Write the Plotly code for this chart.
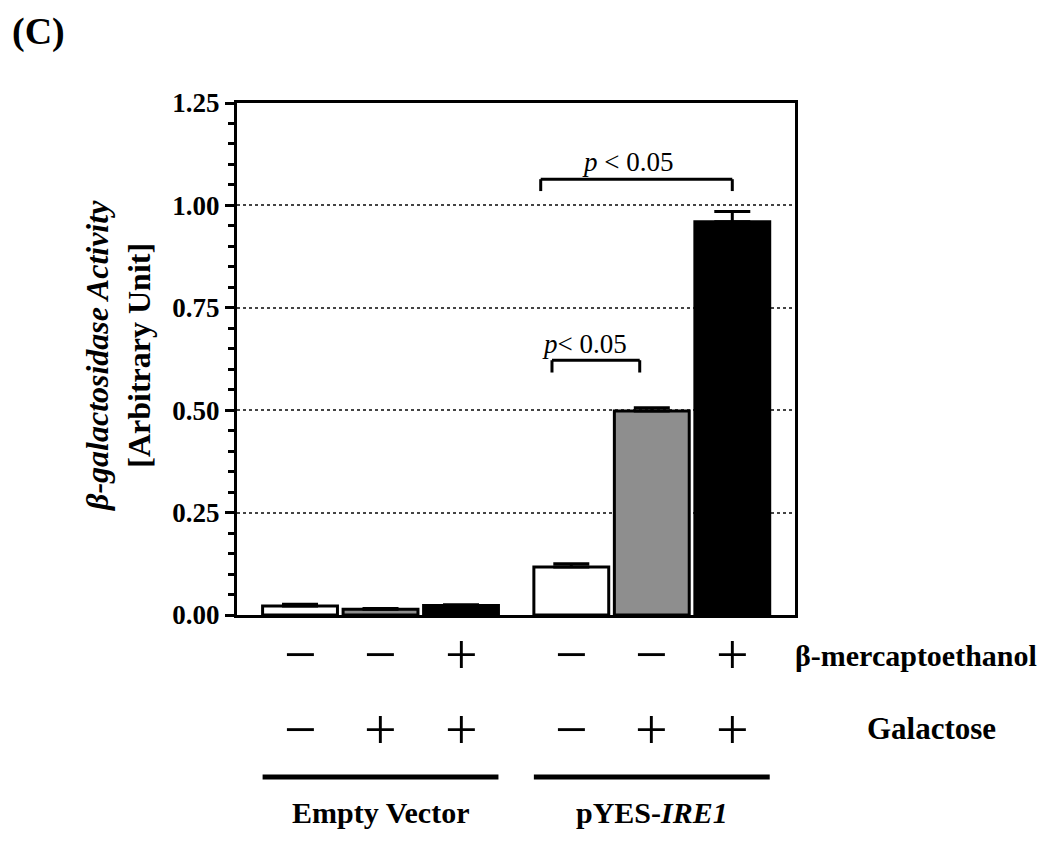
import plotly.graph_objects as go

# ---- data ----
groups = ["Empty Vector", "pYES-<i>IRE1</i>"]
merc_signs = ["−", "−", "+"]
gal_signs = ["−", "+", "+"]
values = [0.022, 0.014, 0.023, 0.117, 0.498, 0.960]
errors = [0.004, 0.002, 0.002, 0.008, 0.008, 0.025]
bar_colors = ["white", "#8e8e8e", "black", "white", "#8e8e8e", "black"]
y_ticks = [0.0, 0.25, 0.5, 0.75, 1.0, 1.25]
sig_label_1 = "<i>p</i> < 0.05"
sig_label_2 = "<i>p</i>< 0.05"

# ---- layout helpers ----
GROUP_STEP = 3.37
BAR_W = 0.93
n_per = 3
xs = [g * GROUP_STEP + i for g in range(len(groups)) for i in range(n_per)]

W, H = 1050, 845
OFF = 8  # page body margin
PX0, PX1, PY0, PY1 = 237, 795, 103, 615  # plot area in screen pixels
L = PX0 - OFF
T = PY0 - OFF
R = W - L - (PX1 - PX0)
B = H - T - (PY1 - PY0)
plot_w = PX1 - PX0
plot_h = PY1 - PY0
def py(pix):  # screen pixel y -> paper y
    return (PY1 - pix) / plot_h
def px(pix):  # screen pixel x -> paper x
    return (pix - PX0) / plot_w

FONT = "Liberation Serif"

fig = go.Figure()
fig.add_trace(go.Bar(
    x=xs, y=values, width=BAR_W,
    marker=dict(color=bar_colors, line=dict(color="black", width=3)),
    error_y=dict(type="data", array=errors, arrayminus=[0] * len(errors),
                 symmetric=False, color="black", thickness=3, width=18),
    showlegend=False, hoverinfo="skip",
))

ann = []
# +/- rows
for k, x in enumerate(xs):
    ann.append(dict(x=x, y=py(654), xref="x", yref="paper", text=merc_signs[k % n_per],
                    showarrow=False, font=dict(family=FONT, size=58, color="black"),
                    xanchor="center", yanchor="middle"))
    ann.append(dict(x=x, y=py(729), xref="x", yref="paper", text=gal_signs[k % n_per],
                    showarrow=False, font=dict(family=FONT, size=58, color="black"),
                    xanchor="center", yanchor="middle"))
ann.append(dict(x=px(916), y=py(655), xref="paper", yref="paper",
                text="<b>β-mercaptoethanol</b>", showarrow=False,
                font=dict(family=FONT, size=30, color="black"), xanchor="center", yanchor="middle"))
ann.append(dict(x=px(931), y=py(728), xref="paper", yref="paper",
                text="<b>Galactose</b>", showarrow=False,
                font=dict(family=FONT, size=31, color="black"), xanchor="center", yanchor="middle"))

shapes = []
for g, name in enumerate(groups):
    gx = xs[g * n_per: (g + 1) * n_per]
    shapes.append(dict(type="line", xref="x", yref="paper",
                       x0=gx[0] - BAR_W / 2, x1=gx[-1] + BAR_W / 2, y0=py(777), y1=py(777),
                       line=dict(color="black", width=5)))
    ann.append(dict(x=gx[1], y=py(812), xref="x", yref="paper", text=f"<b>{name}</b>",
                    showarrow=False, font=dict(family=FONT, size=30, color="black"),
                    xanchor="center", yanchor="middle"))

# significance brackets
def bracket(x0, x1, ytop, ybot):
    for (a, b, c, d) in [(x0, x0, ybot, ytop), (x0, x1, ytop, ytop), (x1, x1, ytop, ybot)]:
        shapes.append(dict(type="line", xref="x", yref="y", x0=a, x1=b, y0=c, y1=d,
                           line=dict(color="black", width=3)))

bracket(xs[3] - 0.38, xs[5], 1.064, 1.035)
ann.append(dict(x=xs[3] + 0.70, y=1.107, xref="x", yref="y", text=sig_label_1, showarrow=False,
                font=dict(family=FONT, size=27, color="black"), xanchor="center", yanchor="middle"))
bracket(xs[3] - 0.24, xs[4] - 0.15, 0.622, 0.592)
ann.append(dict(x=xs[3] + 0.17, y=0.662, xref="x", yref="y", text=sig_label_2, showarrow=False,
                font=dict(family=FONT, size=27, color="black"), xanchor="center", yanchor="middle"))

# y-axis title
ann.append(dict(x=px(118), y=py(356), xref="paper", yref="paper",
                text="<b><i>β-galactosidase Activity</i></b><br><b>[Arbitrary Unit]</b>",
                textangle=-90, showarrow=False, font=dict(family=FONT, size=32, color="black"),
                xanchor="center", yanchor="middle"))
# panel label
ann.append(dict(x=px(OFF + 2), y=py(OFF), xref="paper", yref="paper", text="<b>(C)</b>",
                showarrow=False, font=dict(family=FONT, size=38, color="black"),
                xanchor="left", yanchor="top"))

fig.update_layout(
    width=W, height=H, margin=dict(l=L, r=R, t=T, b=B),
    paper_bgcolor="white", plot_bgcolor="white",
    annotations=ann, shapes=shapes,
    xaxis=dict(range=[xs[0] - 0.783, xs[0] + 6.149], showticklabels=False, ticks="",
               showgrid=False, zeroline=False, showline=True, linecolor="black",
               linewidth=3, mirror=True),
    yaxis=dict(range=[0, 1.25], tickvals=y_ticks, ticktext=[f"{v:.2f}" for v in y_ticks],
               ticks="outside", ticklen=9, tickwidth=3, tickcolor="black",
               tickfont=dict(family=FONT, size=27, color="black", weight="bold"),
               showline=True, linecolor="black", linewidth=3, mirror=True,
               showgrid=True, gridcolor="#444", griddash="dot", gridwidth=1.5,
               zeroline=False,
               minor=dict(dtick=0.05, ticks="outside", ticklen=6, tickwidth=3,
                          tickcolor="black", showgrid=False)),
)

fig.write_html("out.html")
